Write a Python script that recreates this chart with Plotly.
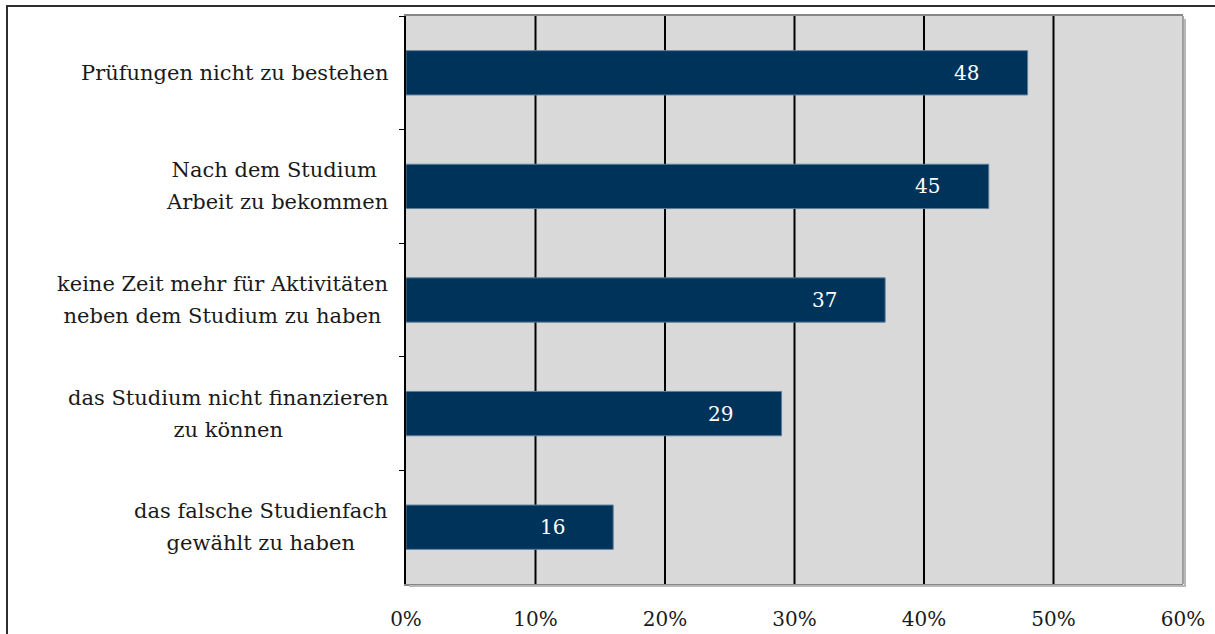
import plotly.graph_objects as go

# Survey answers (top to bottom) and their shares in percent
categories = [
    "Prüfungen nicht zu bestehen",
    "Nach dem Studium\u00a0<br>Arbeit zu bekommen",
    "keine Zeit mehr für Aktivitäten<br>neben dem Studium zu haben",
    "das Studium nicht finanzieren<br>zu können",
    "das falsche Studienfach<br>gewählt zu haben",
]
values = [48, 45, 37, 29, 16]
x_ticks = [0, 10, 20, 30, 40, 50, 60]
x_tick_labels = ["0%", "10%", "20%", "30%", "40%", "50%", "60%"]

W, H = 1215, 634
ML, MR, MT, MB = 406, 32, 16, 50
PW, PH = W - ML - MR, H - MT - MB

FONT = "DejaVu Serif"
BAR = "#00335a"


def px_x(p):
    return (p - ML) / PW


def px_y(p):
    return 1 - (p - MT) / PH


fig = go.Figure()
fig.add_trace(go.Bar(
    y=categories,
    x=values,
    orientation="h",
    marker=dict(color=BAR, line=dict(color="#5d7d9c", width=1)),
    width=0.39,
    hoverinfo="skip",
))

annotations = []
# Value labels inside the bar ends
for c, v in zip(categories, values):
    annotations.append(dict(
        x=v, y=c, xref="x", yref="y", text=str(v), showarrow=False,
        xanchor="center", yanchor="middle", xshift=-61,
        font=dict(family=FONT, size=20, color="white"),
    ))
# Category labels, lines centred within each block
for c in categories:
    annotations.append(dict(
        x=0, y=c, xref="paper", yref="y",
        text=f"<span style='font-size:21px'>{c}</span>",
        showarrow=False, xanchor="right", yanchor="middle", xshift=-16,
        align="center",
        font=dict(family=FONT, size=24.5, color="#1a1a1a"),
    ))

shapes = [
    # vertical gridlines
    *[dict(type="line", xref="x", yref="paper", x0=t, x1=t, y0=0, y1=1,
           line=dict(color="#000000", width=2), layer="below")
      for t in x_ticks[1:-1]],
    # plot frame shadow (right and bottom)
    dict(type="line", xref="paper", yref="paper",
         x0=px_x(ML + PW + 2), x1=px_x(ML + PW + 2), y0=px_y(MT + 3), y1=px_y(MT + PH + 2),
         line=dict(color="#b8b8b8", width=2)),
    dict(type="line", xref="paper", yref="paper",
         x0=px_x(ML + 3), x1=px_x(ML + PW + 3), y0=px_y(MT + PH + 2), y1=px_y(MT + PH + 2),
         line=dict(color="#b8b8b8", width=2)),
    # plot frame right edge
    dict(type="line", xref="paper", yref="paper", x0=1, x1=1, y0=0, y1=1,
         line=dict(color="#868686", width=1.5)),
    # outer chart border
    dict(type="rect", xref="paper", yref="paper",
         x0=px_x(7), x1=px_x(W + 20), y0=px_y(6), y1=px_y(H + 20),
         line=dict(color="#2e2e2e", width=2), fillcolor="rgba(0,0,0,0)"),
]

fig.update_layout(
    width=W, height=H,
    margin=dict(l=ML, r=MR, t=MT, b=MB, pad=0, autoexpand=False),
    paper_bgcolor="white",
    plot_bgcolor="#d9d9d9",
    showlegend=False,
    annotations=annotations,
    shapes=shapes,
    font=dict(family=FONT, size=20, color="#1a1a1a"),
)
fig.update_xaxes(
    range=[0, 60], tickvals=x_ticks, ticktext=x_tick_labels,
    showgrid=False, zeroline=False, automargin=False,
    showline=True, linecolor="#868686", linewidth=1.5, mirror=True,
    ticks="", ticklabelstandoff=16,
    tickfont=dict(family=FONT, size=20, color="#1a1a1a"),
    fixedrange=True,
)
fig.update_yaxes(
    autorange="reversed", type="category", automargin=False,
    showticklabels=False, showgrid=False, zeroline=False,
    showline=True, linecolor="#000000", linewidth=2,
    ticks="outside", tickson="boundaries", ticklen=5, tickcolor="#000000", tickwidth=1,
    fixedrange=True,
)

fig.write_html("out.html", config={"displayModeBar": False})
